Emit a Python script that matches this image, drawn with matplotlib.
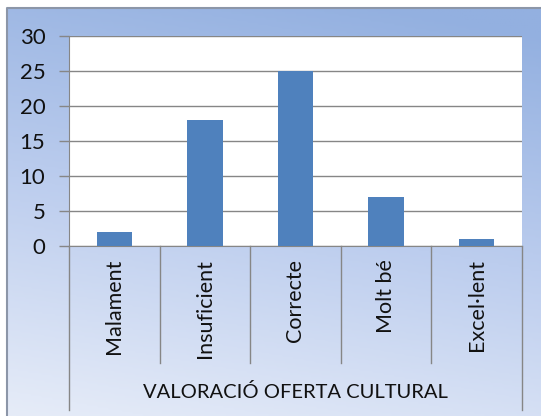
import matplotlib.pyplot as plt
import numpy as np
from matplotlib.colors import LinearSegmentedColormap

plt.rcParams['font.family'] = ['Lato', 'DejaVu Sans']

categories = ['Malament', 'Insuficient', 'Correcte', 'Molt bé', 'Excel·lent']
values = [2, 18, 25, 7, 1]
group_label = 'VALORACIÓ OFERTA CULTURAL'
yticks = [0, 5, 10, 15, 20, 25, 30]

W, H = 541, 416
fig = plt.figure(figsize=(W / 100, H / 100), dpi=100)
fig.patch.set_facecolor('white')

# gradient chart background
bg = fig.add_axes([7 / W, 0, 1 - 7 / W, (H - 8) / H])
bg.set_axis_off()
yy, xx = np.mgrid[0:1:200j, 0:1:200j]
t = np.clip(0.85 * yy + 0.2 * (1 - xx) - 0.05, 0, 1)
cmap = LinearSegmentedColormap.from_list('bg', ['#93b0e0', '#bccdee', '#e6ecf8'])
bg.imshow(t, cmap=cmap, aspect='auto', extent=[0, 1, 0, 1], origin='upper')
bg.set_xlim(0, 1)
bg.set_ylim(0, 1)
bg.plot([0, 0, 1], [0, 1, 1], color='#8c96a8', lw=1.5, clip_on=False)

left, right, top, bottom = 69, 522, 36, 246
ax = fig.add_axes([left / W, 1 - bottom / H, (right - left) / W, (bottom - top) / H])
ax.set_facecolor('white')

x = np.arange(len(categories))
ax.bar(x, values, width=0.39, color='#4f81bd', zorder=3)

ax.set_xlim(-0.5, len(categories) - 0.5)
ax.set_ylim(0, 30)
ax.set_yticks(yticks)
ax.set_yticklabels([str(v) for v in yticks], fontsize=16, color='#111111')
ax.yaxis.grid(True, color='#868686', lw=1)
ax.set_axisbelow(True)
ax.tick_params(axis='y', length=7, width=1, color='#868686', pad=10)
ax.set_xticks([])
for side in ['top', 'right']:
    ax.spines[side].set_visible(False)
ax.spines['left'].set_color('#868686')
ax.spines['bottom'].set_color('#868686')

# category separators and labels below the axis
trans = ax.get_xaxis_transform()
ph = bottom - top
for i in range(len(categories) + 1):
    xs = i - 0.5
    low = -(410 - bottom) / ph if i in (0, len(categories)) else -(363 - bottom) / ph
    ax.plot([xs, xs], [0, low], color='#868686', lw=1, transform=trans, clip_on=False)
for i, name in enumerate(categories):
    ax.text(i, -(259 - bottom) / ph, name, rotation=90, ha='center', va='top',
            fontsize=15.5, color='#111111', transform=trans)
ax.text((len(categories) - 1) / 2, -(392 - bottom) / ph, group_label, ha='center',
        va='center', fontsize=14.5, color='#111111', transform=trans)

fig.savefig('out.png', dpi=100)
